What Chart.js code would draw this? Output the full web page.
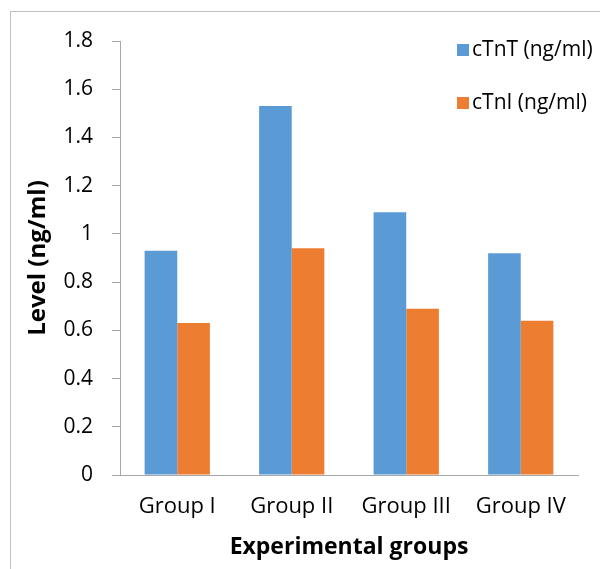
<!DOCTYPE html>
<html>
<head>
<meta charset="utf-8">
<script src="https://cdn.jsdelivr.net/npm/chart.js@4"></script>
<style>
  html, body { margin: 0; padding: 0; background: #fff; overflow: hidden; }
  #frame { position: absolute; left: 10px; top: 11px; width: 640px; height: 620px; border: 1px solid #bfbfbf; }
  #wrap { position: absolute; left: 0; top: 0; width: 600px; height: 569px; }
</style>
</head>
<body>
<div id="frame"></div>
<div id="wrap"><canvas id="levelChart" width="600" height="569"></canvas></div>
<script>
    const groups = ['Group I', 'Group II', 'Group III', 'Group IV'];
    const cTnT = [0.93, 1.53, 1.09, 0.92];
    const cTnI = [0.63, 0.94, 0.69, 0.64];
    const yTickLabels = ['0', '0.2', '0.4', '0.6', '0.8', '1', '1.2', '1.4', '1.6', '1.8'];

    const fontFamily = "'Open Sans', sans-serif";

    // legend drawn in the top-right corner, over the plot area like the original
    const sideLegend = {
        id: 'sideLegend',
        afterDraw: function (chart) {
            const ctx = chart.ctx;
            const rows = [50, 103];
            ctx.save();
            ctx.font = '21px ' + fontFamily;
            ctx.textBaseline = 'middle';
            ctx.textAlign = 'left';
            chart.data.datasets.forEach(function (ds, i) {
                ctx.fillStyle = ds.backgroundColor;
                ctx.fillRect(457, rows[i] - 6, 12, 12);
                ctx.fillStyle = '#000';
                ctx.fillText(ds.label, 472, rows[i]);
            });
            ctx.restore();
        }
    };

    const ctx = document.getElementById('levelChart').getContext('2d');

    new Chart(ctx, {
        type: 'bar',
        data: {
            labels: groups,
            datasets: [{
                label: 'cTnT (ng/ml)',
                backgroundColor: '#5B9BD5',
                data: cTnT,
                borderWidth: 0
            }, {
                label: 'cTnI (ng/ml)',
                backgroundColor: '#ED7D31',
                data: cTnI,
                borderWidth: 0
            }]
        },
        options: {
            responsive: false,
            animation: false,
            layout: {
                padding: { left: 24, top: 41, right: 22, bottom: 0 }
            },
            datasets: {
                bar: { categoryPercentage: 0.57, barPercentage: 1.0 }
            },
            plugins: {
                legend: { display: false },
                tooltip: { enabled: false }
            },
            scales: {
                x: {
                    grid: { display: false },
                    border: { display: true, color: '#a6a6a6', width: 1 },
                    ticks: {
                        color: '#000',
                        font: { family: fontFamily, size: 22 },
                        padding: 11
                    },
                    title: {
                        display: true,
                        text: 'Experimental groups',
                        color: '#000',
                        font: { family: fontFamily, size: 23, weight: 'bold' },
                        padding: { top: 0, bottom: 8 }
                    },
                    afterFit: function (scale) { scale.height = 94; }
                },
                y: {
                    min: 0,
                    max: 1.8,
                    ticks: {
                        stepSize: 0.2,
                        color: '#000',
                        font: { family: fontFamily, size: 21 },
                        padding: 19,
                        callback: function (v, i) { return yTickLabels[i]; }
                    },
                    grid: {
                        drawOnChartArea: false,
                        drawTicks: true,
                        tickLength: 8,
                        color: '#a6a6a6'
                    },
                    border: { display: true, color: '#a6a6a6', width: 1 },
                    title: {
                        display: true,
                        text: 'Level (ng/ml)',
                        color: '#000',
                        font: { family: fontFamily, size: 24, weight: 'bold' },
                        padding: { top: 0, bottom: 0 }
                    },
                    afterFit: function (scale) { scale.width = 96; }
                }
            }
        },
        plugins: [sideLegend]
    });
</script>
</body>
</html>
